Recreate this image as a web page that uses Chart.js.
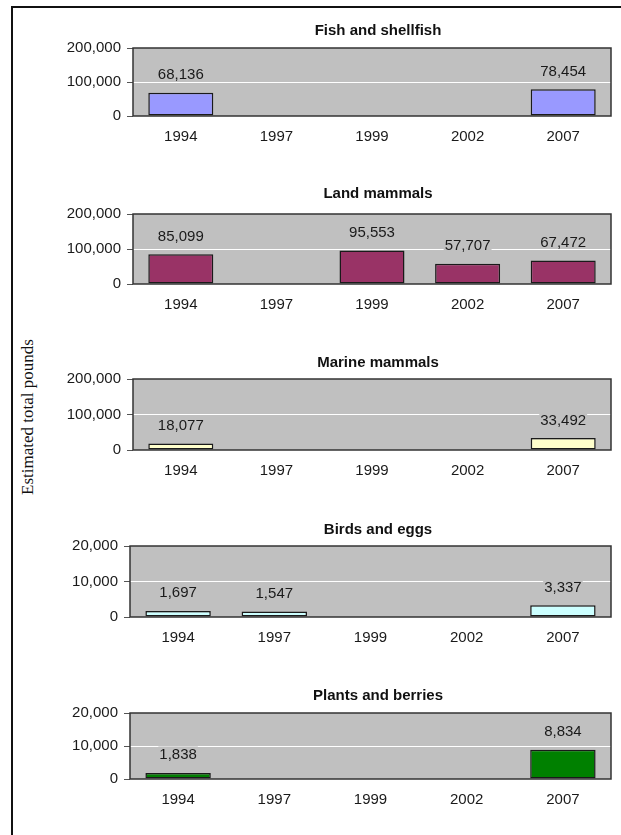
<!DOCTYPE html>
<html>
<head>
<meta charset="utf-8">
<script src="https://cdn.jsdelivr.net/npm/chart.js@4.4.0/dist/chart.umd.min.js"></script>
<style>
  body { margin: 0; background: #fff; }
  #page { position: relative; width: 621px; height: 835px; overflow: hidden; }
  #frame { position: absolute; left: 11px; top: 6px; right: -4px; bottom: -4px;
           border-left: 2px solid #111; border-top: 2px solid #111; }
  canvas { position: absolute; left: 0; }
  #ytitle { position: absolute; left: 28px; top: 417px; transform: translate(-50%, -50%) rotate(-90deg);
            font: 17px "Liberation Serif", "Times New Roman", serif; color: #111; white-space: nowrap; }
</style>
</head>
<body>
<div id="page">
  <div id="frame"></div>
  <div id="ytitle">Estimated total pounds</div>
</div>
<script>
const years = ['1994', '1997', '1999', '2002', '2007'];
const fishValues = [68136, null, null, null, 78454];
const landValues = [85099, null, 95553, 57707, 67472];
const marineValues = [18077, null, null, null, 33492];
const birdValues = [1697, 1547, null, null, 3337];
const plantValues = [1838, null, null, null, 8834];
const bigTicks = [0, 100000, 200000];
const smallTicks = [0, 10000, 20000];

// plot boxes for each small chart
const panels = [
  { title: 'Fish and shellfish', values: fishValues, ticks: bigTicks, color: '#9999ff', top: 48, bottom: 116, left: 133, titleGap: 19 },
  { title: 'Land mammals', values: landValues, ticks: bigTicks, color: '#993366', top: 214, bottom: 284, left: 133, titleGap: 22 },
  { title: 'Marine mammals', values: marineValues, ticks: bigTicks, color: '#ffffcc', top: 379, bottom: 450, left: 133, titleGap: 18 },
  { title: 'Birds and eggs', values: birdValues, ticks: smallTicks, color: '#ccffff', top: 546, bottom: 617, left: 130, titleGap: 18 },
  { title: 'Plants and berries', values: plantValues, ticks: smallTicks, color: '#008000', top: 713, bottom: 779, left: 130, titleGap: 19 }
];

const FONT = '"Liberation Sans", Arial, sans-serif';
const PLOT_BG = '#c0c0c0';
Chart.defaults.color = '#1a1a1a';
Chart.defaults.font.family = FONT;

const panelDecor = {
  id: 'panelDecor',
  beforeDraw(chart) {
    const a = chart.chartArea, ctx = chart.ctx;
    ctx.save();
    ctx.fillStyle = PLOT_BG;
    ctx.fillRect(a.left, a.top, a.right - a.left, a.bottom - a.top);
    ctx.restore();
  },
  afterDatasetsDraw(chart, args, opts) {
    const a = chart.chartArea, ctx = chart.ctx;
    ctx.save();
    ctx.strokeStyle = '#333';
    ctx.lineWidth = 1.5;
    ctx.strokeRect(a.left, a.top, a.right - a.left, a.bottom - a.top);

    // value labels above bars
    ctx.font = '15px ' + FONT;
    ctx.textAlign = 'center';
    ctx.textBaseline = 'alphabetic';
    chart.getDatasetMeta(0).data.forEach((bar, i) => {
      const v = opts.values[i];
      if (v == null) return;
      const txt = v.toLocaleString('en-US');
      const w = ctx.measureText(txt).width;
      const base = bar.y - 13.5;
      ctx.fillStyle = PLOT_BG;
      ctx.fillRect(bar.x - w / 2 - 1, base - 13, w + 2, 15);
      ctx.fillStyle = '#1a1a1a';
      ctx.fillText(txt, bar.x, base);
    });

    // panel title
    ctx.font = 'bold 15px ' + FONT;
    ctx.fillStyle = '#111';
    ctx.fillText(opts.title, 378, a.top - opts.titleGap + 5.5);
    ctx.restore();
  }
};

const page = document.getElementById('page');

panels.forEach(p => {
  const canvas = document.createElement('canvas');
  const h = 40 + (p.bottom - p.top) + 40;
  canvas.width = 621;
  canvas.height = h;
  canvas.style.top = (p.top - 40) + 'px';
  page.appendChild(canvas);

  const mid = p.ticks[1];
  new Chart(canvas.getContext('2d'), {
    type: 'bar',
    data: {
      labels: years,
      datasets: [{
        data: p.values,
        backgroundColor: p.color,
        borderColor: '#1a1a1a',
        borderWidth: 1.5,
        borderSkipped: false,
        barPercentage: 0.68,
        categoryPercentage: 1
      }]
    },
    options: {
      responsive: false,
      animation: false,
      devicePixelRatio: 1,
      layout: { padding: { top: 40, right: 10, bottom: 0, left: 0 } },
      plugins: {
        legend: { display: false },
        tooltip: { enabled: false },
        panelDecor: { values: p.values, title: p.title, titleGap: p.titleGap }
      },
      scales: {
        x: {
          grid: { display: false },
          border: { display: false },
          ticks: { padding: 4, font: { size: 15 } },
          afterFit: s => { s.height = 40; }
        },
        y: {
          min: p.ticks[0],
          max: p.ticks[2],
          border: { display: false },
          grid: {
            color: c => (c.tick && c.tick.value === mid) ? '#ffffff' : 'rgba(0,0,0,0)',
            tickColor: '#555',
            tickLength: 6,
            lineWidth: 1
          },
          ticks: {
            stepSize: p.ticks[1] - p.ticks[0],
            padding: 6,
            font: { size: 15 },
            callback: v => v.toLocaleString('en-US')
          },
          afterFit: s => { s.width = p.left; }
        }
      }
    },
    plugins: [panelDecor]
  });
});
</script>
</body>
</html>
